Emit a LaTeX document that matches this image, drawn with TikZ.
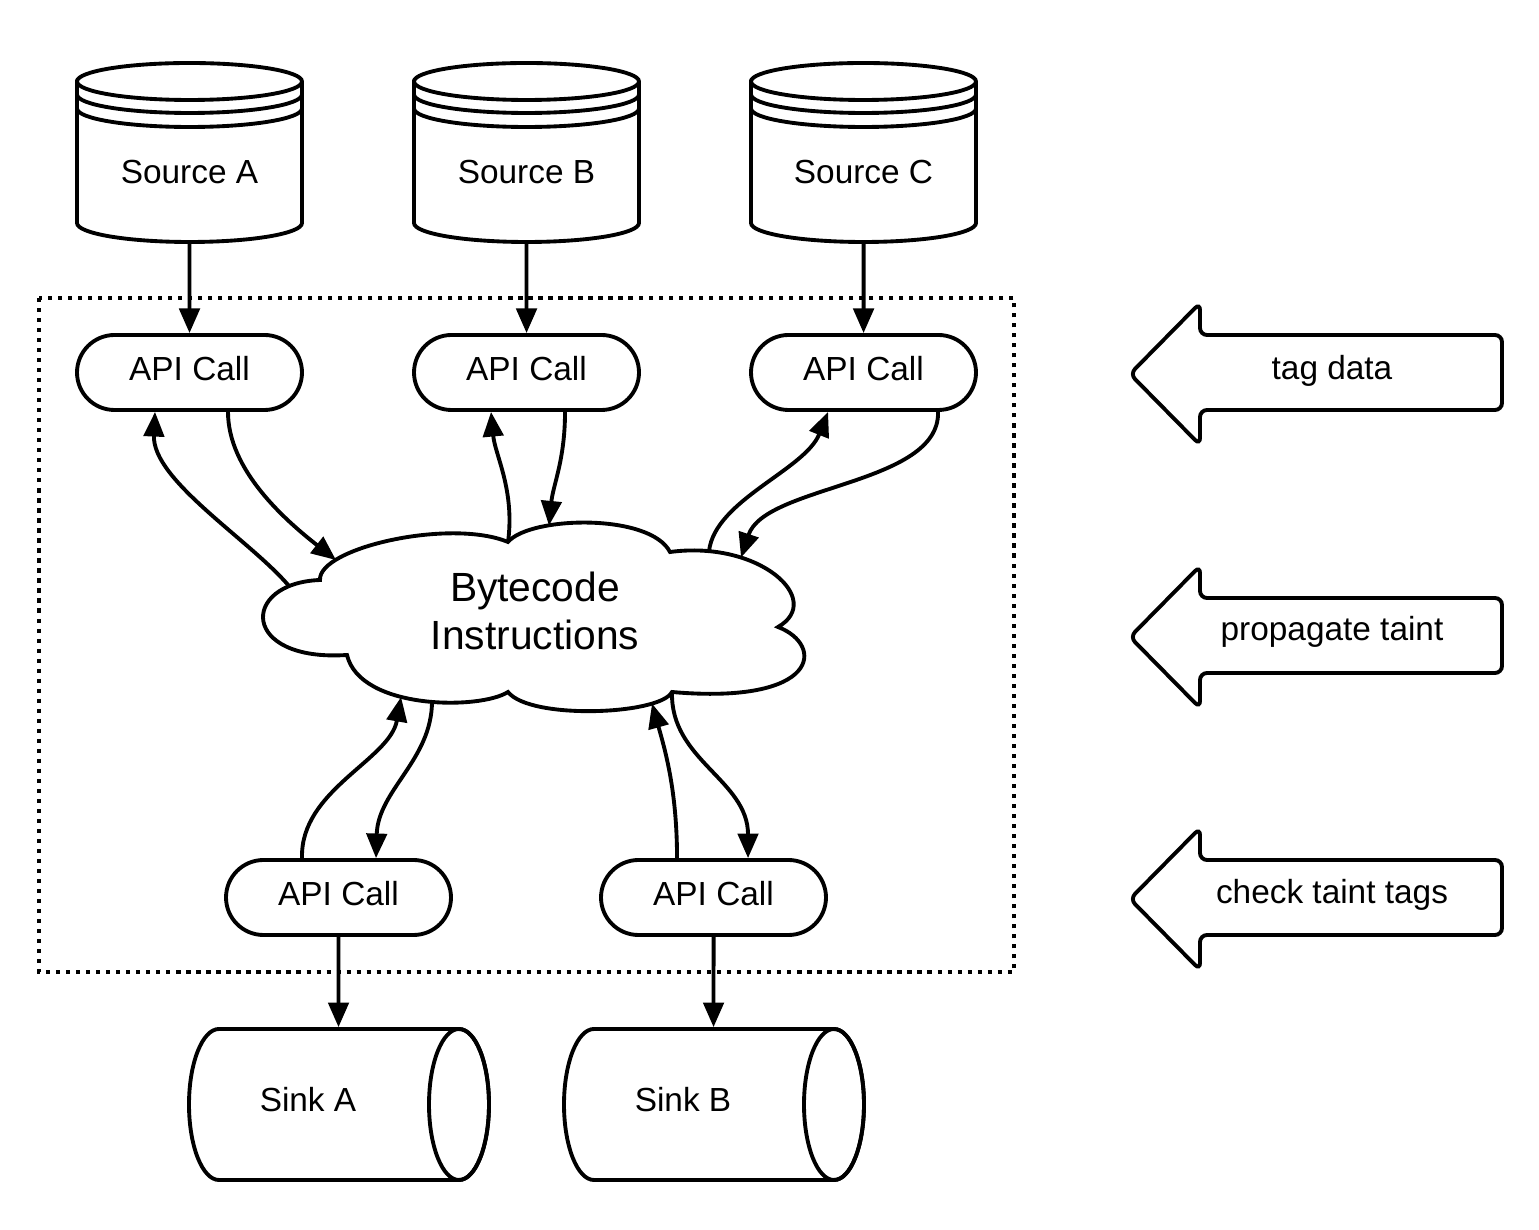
\documentclass[tikz,border=0pt]{standalone}
\usepackage{fontspec}
\setmainfont{Liberation Sans}
\usetikzlibrary{arrows.meta,shapes.misc,calc}

\begin{document}
\begin{tikzpicture}[scale=0.1, line width=1.1pt,
  apicall/.style={draw=black, rounded rectangle, minimum width=2.25cm, minimum height=0.75cm, text depth=2.5pt},
  srclabel/.style={minimum width=2.25cm, minimum height=1.4cm},
  sinklabel/.style={minimum width=1cm, minimum height=1.42cm},
  flow/.style={black, -{Triangle[length=7pt,width=5.8pt]}},
  boxline/.style={black, line width=1.2pt, dash pattern=on 1.2pt off 1.65pt}]
\tikzstyle{every node}+=[inner sep=0pt, font=\fontsize{9.5}{11.4}\selectfont]
\useasboundingbox (0,0) rectangle (153.9,-123);
% sources
\draw [black] (7.7,-8.15) -- (7.7,-22.3) arc (180:360:11.25 and 1.9) -- (30.2,-8.15) arc (0:180:11.25 and 1.85) -- cycle;
\draw [black] (7.7,-8.15) arc (180:360:11.25 and 1.85);
\draw [black] (7.7,-9.45) arc (180:360:11.25 and 1.85);
\draw [black] (7.7,-10.85) arc (180:360:11.25 and 1.85);
\node [srclabel] (srcA) at (18.95,-17.2) {Source A};
\draw [black] (41.4,-8.15) -- (41.4,-22.3) arc (180:360:11.25 and 1.9) -- (63.9,-8.15) arc (0:180:11.25 and 1.85) -- cycle;
\draw [black] (41.4,-8.15) arc (180:360:11.25 and 1.85);
\draw [black] (41.4,-9.45) arc (180:360:11.25 and 1.85);
\draw [black] (41.4,-10.85) arc (180:360:11.25 and 1.85);
\node [srclabel] (srcB) at (52.65,-17.2) {Source B};
\draw [black] (75.1,-8.15) -- (75.1,-22.3) arc (180:360:11.25 and 1.9) -- (97.6,-8.15) arc (0:180:11.25 and 1.85) -- cycle;
\draw [black] (75.1,-8.15) arc (180:360:11.25 and 1.85);
\draw [black] (75.1,-9.45) arc (180:360:11.25 and 1.85);
\draw [black] (75.1,-10.85) arc (180:360:11.25 and 1.85);
\node [srclabel] (srcC) at (86.35,-17.2) {Source C};
% api calls
\node [apicall] (apiA) at (18.95,-37.25) {API Call};
\node [apicall] (apiB) at (52.65,-37.25) {API Call};
\node [apicall] (apiC) at (86.35,-37.25) {API Call};
\node [apicall] (apiD) at (33.85,-89.75) {API Call};
\node [apicall] (apiE) at (71.35,-89.75) {API Call};
% cloud
\draw [black] (32,-58) .. controls (31.8,-54.8) and (45,-51.8) .. (50.8,-54.2)
  .. controls (53,-51.6) and (65,-51.3) .. (67,-55.2)
  .. controls (76,-54) and (82.5,-60) .. (77.8,-62.7)
  .. controls (82.5,-64.5) and (82,-70.5) .. (67.2,-69.2)
  .. controls (66,-71.5) and (53,-72) .. (50.8,-69.2)
  .. controls (48,-71) and (36,-71) .. (34.7,-65.5)
  .. controls (24,-66.2) and (24,-58.3) .. (32,-58) -- cycle;
\node [font=\fontsize{11.6}{13.6}\selectfont, align=center] (code) at (53.5,-61.1) {Bytecode\\Instructions};
\coordinate (cl1) at (28.9,-58.6);
\coordinate (cl2) at (33.6,-56);
\coordinate (cl3) at (50.8,-54.2);
\coordinate (cl4) at (54.9,-52.55);
\coordinate (cl5) at (70.9,-55.1);
\coordinate (cl6) at (74.1,-55.75);
\coordinate (cl7) at (40.1,-69.7);
\coordinate (cl8) at (43.2,-70.1);
\coordinate (cl9) at (65.2,-70.35);
\coordinate (cl10) at (67.2,-69.2);
% sinks
\draw [black] (21.9,-102.9) -- (45.9,-102.9) arc (90:-90:3 and 7.55) -- (21.9,-118) arc (270:90:3 and 7.55) -- cycle;
\draw [black] (45.9,-110.45) ellipse (3 and 7.55);
\node [sinklabel] (sinkA) at (30.8,-110) {Sink A};
\draw [black] (59.4,-102.9) -- (83.4,-102.9) arc (90:-90:3 and 7.55) -- (59.4,-118) arc (270:90:3 and 7.55) -- cycle;
\draw [black] (83.4,-110.45) ellipse (3 and 7.55);
\node [sinklabel] (sinkB) at (68.3,-110) {Sink B};
% boundary
\draw [boxline] (3.9,-29.8) rectangle (101.4,-97.2);
% connectors
\draw [flow] (srcA) -- (apiA);
\draw [flow] (srcB) -- (apiB);
\draw [flow] (srcC) -- (apiC);
\draw [flow] (cl1) .. controls (25,-54) and (15.2,-48) .. ($(apiA.south)+(-3.45,0)$);
\draw [flow] ($(apiA.south)+(3.85,0)$) .. controls (22.8,-47) and (28.5,-52) .. (cl2);
\draw [flow] (cl3) .. controls (51.5,-49) and (49.5,-45.5) .. ($(apiB.south)+(-3.55,0)$);
\draw [flow] ($(apiB.south)+(3.85,0)$) .. controls (56.5,-46) and (55.3,-48.5) .. (cl4);
\draw [flow] (cl5) .. controls (71.5,-50) and (80.5,-47) .. ($(apiC.south)+(-3.55,0)$);
\draw [flow] ($(apiC.south)+(7.45,0)$) .. controls (94,-48.5) and (76.5,-48.5) .. (cl6);
\draw [flow] ($(apiD.north)+(-3.65,0)$) .. controls (30,-79) and (39,-76) .. (cl7);
\draw [flow] (cl8) .. controls (43.2,-76) and (37.8,-79) .. ($(apiD.north)+(3.75,0)$);
\draw [flow] ($(apiE.north)+(-3.65,0)$) .. controls (67.7,-79) and (66.5,-75) .. (cl9);
\draw [flow] (cl10) .. controls (67,-76) and (74.8,-78) .. ($(apiE.north)+(3.45,0)$);
\draw [flow] (apiD) -- (apiD |- sinkA.north);
\draw [flow] (apiE) -- (apiE |- sinkB.north);
% stage arrows
\draw [black, rounded corners=2pt] (113,-37.4) -- (120,-30.3) -- (120,-33.5) -- (150.2,-33.5) -- (150.2,-41) -- (120,-41) -- (120,-44.5) -- cycle;
\node (tag) at (133.2,-37.1) {tag data};
\draw [black, rounded corners=2pt] (113,-63.7) -- (120,-56.6) -- (120,-59.8) -- (150.2,-59.8) -- (150.2,-67.3) -- (120,-67.3) -- (120,-70.8) -- cycle;
\node (prop) at (133.2,-63.2) {propagate taint};
\draw [black, rounded corners=2pt] (113,-89.9) -- (120,-82.8) -- (120,-86) -- (150.2,-86) -- (150.2,-93.5) -- (120,-93.5) -- (120,-97) -- cycle;
\node (check) at (133.2,-89.5) {check taint tags};
\end{tikzpicture}
\end{document}
